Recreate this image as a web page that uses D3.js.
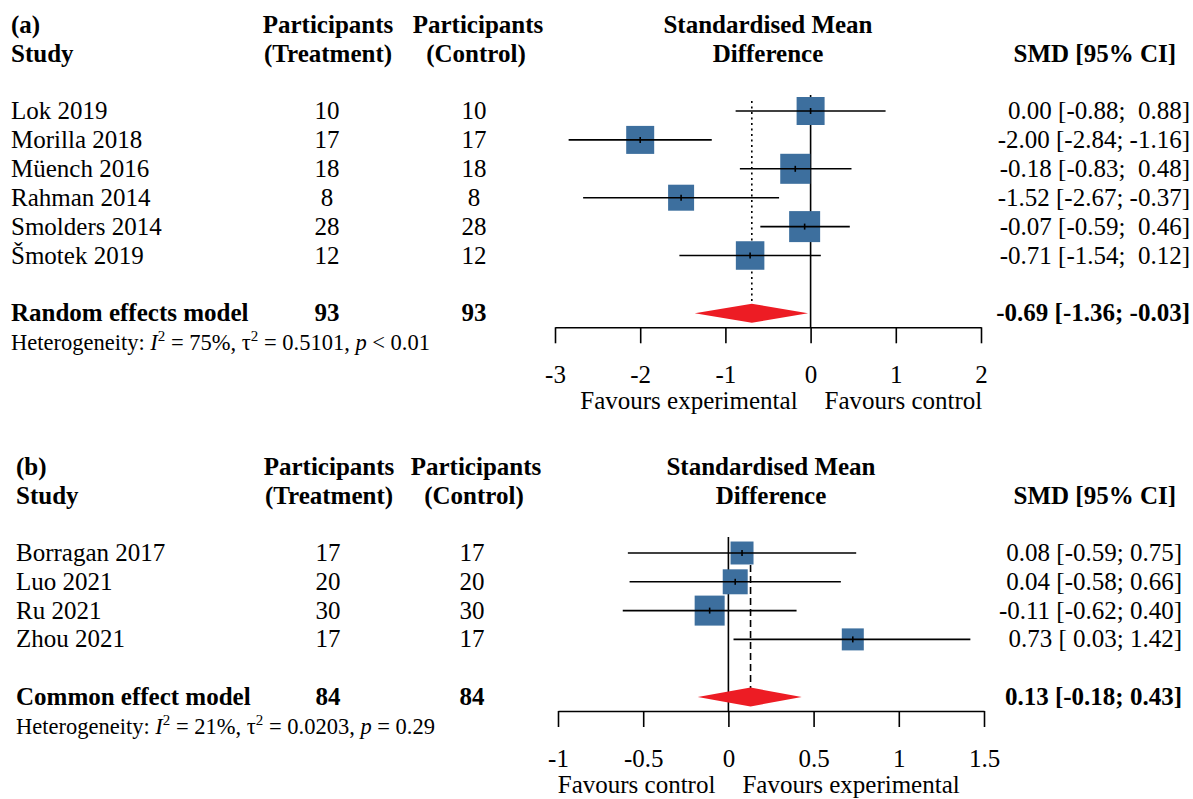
<!DOCTYPE html>
<html lang="en">
<head>
<meta charset="UTF-8">
<title>Forest plots</title>
<script src="https://cdn.jsdelivr.net/npm/d3@7"></script>
<style>
    body { margin: 0; padding: 0; background: #fff; }
    svg text { font-family: 'Liberation Serif', 'Times New Roman', serif; white-space: pre; }
</style>
</head>
<body>
<div id="chart"></div>
<script>
    // ---- panel (a) data
    const studiesA = ["Lok 2019", "Morilla 2018", "Müench 2016", "Rahman 2014", "Smolders 2014", "Šmotek 2019"];
    const nTreatA = [10, 17, 18, 8, 28, 12];
    const nCtrlA = [10, 17, 18, 8, 28, 12];
    const smdA = [0.00, -2.00, -0.18, -1.52, -0.07, -0.71];
    const lowerA = [-0.88, -2.84, -0.83, -2.67, -0.59, -1.54];
    const upperA = [0.88, -1.16, 0.48, -0.37, 0.46, 0.12];
    const weightA = [15.9, 15.9, 18.3, 13.7, 19.5, 16.5];
    const pooledA = [-0.69, -1.36, -0.03];   // est, lower, upper
    const totalA = [93, 93];
    const hetA = ["75%", "0.5101", "< 0.01"];
    const ticksA = [-3, -2, -1, 0, 1, 2];

    // ---- panel (b) data
    const studiesB = ["Borragan 2017", "Luo 2021", "Ru 2021", "Zhou 2021"];
    const nTreatB = [17, 20, 30, 17];
    const nCtrlB = [17, 20, 30, 17];
    const smdB = [0.08, 0.04, -0.11, 0.73];
    const lowerB = [-0.59, -0.58, -0.62, 0.03];
    const upperB = [0.75, 0.66, 0.40, 1.42];
    const weightB = [20.8, 24.6, 35.5, 19.1];
    const pooledB = [0.13, -0.18, 0.43];
    const totalB = [84, 84];
    const hetB = ["21%", "0.0203", "= 0.29"];
    const ticksB = [-1, -0.5, 0, 0.5, 1, 1.5];

    const W = 1193, H = 799;
    const FS = 25;
    const boxColor = "#3d6f9e";
    const diamondColor = "#ed1c24";

    const svg = d3.select("#chart").append("svg")
        .attr("width", W).attr("height", H)
        .attr("viewBox", `0 0 ${W} ${H}`);

    drawPanel({
        tag: "(a)", studies: studiesA, nT: nTreatA, nC: nCtrlA, est: smdA, lo: lowerA, hi: upperA,
        w: weightA, pooled: pooledA, total: totalA, het: hetA, ticks: ticksA,
        model: "Random effects model", left: "Favours experimental", right: "Favours control",
        pooledDash: "2,3.5", maxBox: 31,
        row1: 111, step: 28.9, xStudy: 11, xT: 327, xC: 474, xR: 1190,
        xRange: [555, 981]
    });

    drawPanel({
        tag: "(b)", studies: studiesB, nT: nTreatB, nC: nCtrlB, est: smdB, lo: lowerB, hi: upperB,
        w: weightB, pooled: pooledB, total: totalB, het: hetB, ticks: ticksB,
        model: "Common effect model", left: "Favours control", right: "Favours experimental",
        pooledDash: "7,4", maxBox: 30,
        row1: 553, step: 28.8, xStudy: 16, xT: 328, xC: 472, xR: 1182,
        xRange: [558, 984]
    });

    function drawPanel(p) {
        const g = svg.append("g");
        const n = p.studies.length;
        const x = d3.scaleLinear()
            .domain(d3.extent(p.ticks))
            .range(p.xRange);
        const y = i => p.row1 + i * p.step;
        const yPool = y(n + 1);
        const yAxis = yPool + 14;
        const boxSize = d3.scaleSqrt().domain([0, d3.max(p.w)]).range([0, p.maxBox]);

        // ---- headers
        const h1 = p.row1 - 78, h2 = p.row1 - 49;
        const bold = (t, xx, yy, anchor) => g.append("text")
            .attr("x", xx).attr("y", yy).attr("text-anchor", anchor || "start")
            .attr("font-size", FS).attr("font-weight", "bold").text(t);
        const plain = (t, xx, yy, anchor) => g.append("text")
            .attr("x", xx).attr("y", yy).attr("text-anchor", anchor || "start")
            .attr("font-size", FS).text(t);

        bold(p.tag, p.xStudy, h1);
        bold("Study", p.xStudy, h2);
        bold("Participants", p.xT + 1, h1, "middle");
        bold("(Treatment)", p.xT + 1, h2, "middle");
        bold("Participants", p.xC + 4, h1, "middle");
        bold("(Control)", p.xC + 2, h2, "middle");
        const xMid = (p.xRange[0] + p.xRange[1]) / 2;
        bold("Standardised Mean", xMid, h1, "middle");
        bold("Difference", xMid, h2, "middle");
        bold("SMD [95% CI]", 1176, h2, "end");

        // ---- CI strings padded like R's meta output
        const f = v => v.toFixed(2);
        const loS = p.lo.concat([p.pooled[1]]).map(f);
        const hiS = p.hi.concat([p.pooled[2]]).map(f);
        const loW = d3.max(loS, s => s.length), hiW = d3.max(hiS, s => s.length);
        const ciText = (e, i) => `${f(e)} [${loS[i].padStart(loW)}; ${hiS[i].padStart(hiW)}]`;

        // ---- study rows text
        p.studies.forEach((s, i) => {
            plain(s, p.xStudy, y(i) + 8);
            plain(String(p.nT[i]), p.xT, y(i) + 8, "middle");
            plain(String(p.nC[i]), p.xC, y(i) + 8, "middle");
            plain(ciText(p.est[i], i), p.xR, y(i) + 8, "end");
        });

        bold(p.model, p.xStudy, yPool + 8);
        bold(String(p.total[0]), p.xT, yPool + 8, "middle");
        bold(String(p.total[1]), p.xC, yPool + 8, "middle");
        bold(ciText(p.pooled[0], n), p.xR, yPool + 8, "end");

        // heterogeneity line
        const het = g.append("text")
            .attr("x", p.xStudy).attr("y", yPool + 37).attr("font-size", 22.5);
        het.append("tspan").text("Heterogeneity: ");
        het.append("tspan").attr("font-style", "italic").text("I");
        het.append("tspan").attr("font-size", 15).attr("dy", -9).text("2");
        het.append("tspan").attr("dy", 9).text(` = ${p.het[0]}, τ`);
        het.append("tspan").attr("font-size", 15).attr("dy", -9).text("2");
        het.append("tspan").attr("dy", 9).text(` = ${p.het[1]}, `);
        het.append("tspan").attr("font-style", "italic").text("p");
        het.append("tspan").text(` ${p.het[2]}`);

        // ---- reference lines
        g.append("line")
            .attr("x1", x(0)).attr("x2", x(0))
            .attr("y1", p.row1 - 16).attr("y2", yAxis)
            .attr("stroke", "#000").attr("stroke-width", 1.6);
        g.append("line")
            .attr("x1", x(p.pooled[0])).attr("x2", x(p.pooled[0]))
            .attr("y1", p.row1 - 10).attr("y2", yPool)
            .attr("stroke", "#000").attr("stroke-width", 1.6)
            .attr("stroke-dasharray", p.pooledDash);

        // ---- boxes
        const idx = d3.range(n);
        g.selectAll("rect.box").data(idx).enter().append("rect")
            .attr("class", "box")
            .attr("x", i => x(p.est[i]) - boxSize(p.w[i]) / 2)
            .attr("y", i => y(i) - boxSize(p.w[i]) / 2)
            .attr("width", i => boxSize(p.w[i]))
            .attr("height", i => boxSize(p.w[i]))
            .attr("fill", boxColor);

        // ---- CI lines & estimate ticks
        g.selectAll("line.ci").data(idx).enter().append("line")
            .attr("class", "ci")
            .attr("x1", i => x(p.lo[i])).attr("x2", i => x(p.hi[i]))
            .attr("y1", i => y(i)).attr("y2", i => y(i))
            .attr("stroke", "#000").attr("stroke-width", 1.6);
        g.selectAll("line.mark").data(idx).enter().append("line")
            .attr("class", "mark")
            .attr("x1", i => x(p.est[i])).attr("x2", i => x(p.est[i]))
            .attr("y1", i => y(i) - 3).attr("y2", i => y(i) + 3)
            .attr("stroke", "#000").attr("stroke-width", 1.6);

        // ---- pooled diamond
        const dh = 9.5;
        g.append("path")
            .attr("d", `M${x(p.pooled[1])},${yPool} L${x(p.pooled[0])},${yPool - dh} ` +
                `L${x(p.pooled[2])},${yPool} L${x(p.pooled[0])},${yPool + dh} Z`)
            .attr("fill", diamondColor);

        // ---- axis
        const ax = g.append("g")
            .attr("transform", `translate(0,${yAxis})`)
            .call(d3.axisBottom(x)
                .tickValues(p.ticks)
                .tickFormat(d => String(d))
                .tickSize(16)
                .tickSizeOuter(0)
                .tickPadding(22));
        ax.selectAll("path, line").attr("stroke", "#000").attr("stroke-width", 1.6);
        ax.selectAll("text").attr("font-size", FS).attr("fill", "#000")
            .attr("font-family", "'Liberation Serif', 'Times New Roman', serif");
        ax.attr("font-size", null).attr("font-family", null);

        plain(p.left, x(0) - 13, yAxis + 82, "end");
        plain(p.right, x(0) + 14, yAxis + 82, "start");
    }
</script>
</body>
</html>
